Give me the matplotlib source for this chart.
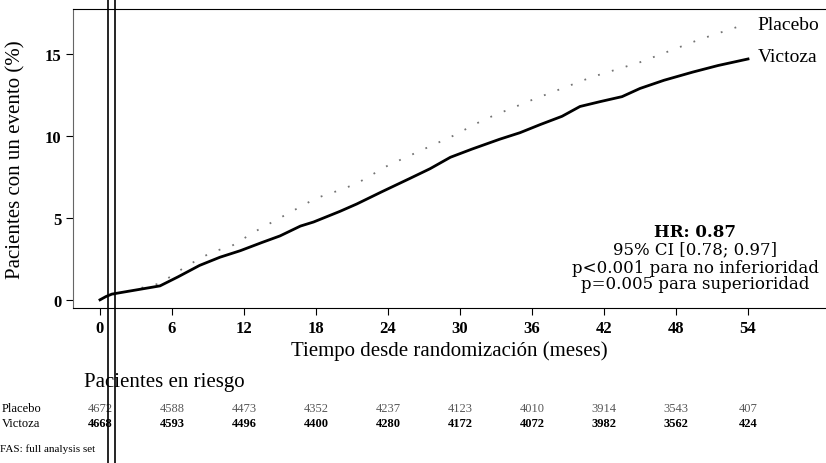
import numpy as np
import matplotlib.pyplot as plt
from matplotlib.lines import Line2D

plt.rcParams['font.family'] = ['Liberation Serif', 'DejaVu Serif']

# curvas (meses, % pacientes con evento)
meses_victoza = [0, 0.5, 1, 3, 5, 6.5, 8.3, 10, 11.7, 13.5, 15, 16.7, 17.8, 20, 21.4,
                 23.5, 25.8, 27.5, 29.2, 31, 33.3, 35, 36.7, 38.5, 40, 41.7, 43.5,
                 45, 47, 49.4, 51.5, 54]
victoza = [0, 0.2, 0.35, 0.6, 0.85, 1.4, 2.1, 2.6, 3.0, 3.5, 3.9, 4.5, 4.75, 5.4,
           5.85, 6.6, 7.4, 8.0, 8.7, 9.2, 9.8, 10.2, 10.7, 11.2, 11.8, 12.1, 12.4,
           12.9, 13.4, 13.9, 14.3, 14.7]

meses_placebo = [0, 1, 5, 7.3, 9.3, 11, 13, 16, 18, 20, 21.4, 24, 29.4, 32,
                 36, 41, 45, 50, 53.3, 54]
placebo = [0, 0.3, 1.0, 2.1, 2.9, 3.3, 4.2, 5.4, 6.2, 6.7, 7.1, 8.2, 10.0, 11.0,
           12.2, 13.6, 14.5, 15.9, 16.7, 16.8]

ticks_x = [0, 6, 12, 18, 24, 30, 36, 42, 48, 54]
riesgo_placebo = ["4672", "4588", "4473", "4352", "4237", "4123", "4010", "3914", "3543", "407"]
riesgo_victoza = ["4668", "4593", "4496", "4400", "4280", "4172", "4072", "3982", "3562", "424"]

fig = plt.figure(figsize=(8.26, 4.64), dpi=100)
ax = fig.add_axes([73/826, 1-309/464, 1-73/826, (309-10)/464])

ax.plot(meses_placebo, placebo, color="0.45", lw=1.3, linestyle=(0, (1, 7)))
ax.plot(meses_victoza, victoza, color="black", lw=2)

ax.set_xlim(-2.25, 60.5)
ax.set_ylim(-0.5, 17.75)
ax.set_xticks(ticks_x)
ax.set_yticks([0, 5, 10, 15])
ax.tick_params(axis="both", labelsize=12, direction="out", length=5)
for t in ax.get_xticklabels() + ax.get_yticklabels():
    t.set_fontweight("bold")
ax.spines["right"].set_visible(False)
ax.spines["left"].set_color("0.4")

ax.set_xlabel("Tiempo desde randomización (meses)", fontsize=15, labelpad=3)
ax.set_ylabel("Pacientes con un evento (%)", fontsize=15, labelpad=14)

ax.text(54.8, 16.8, "Placebo", fontsize=14, va="center")
ax.text(54.8, 14.85, "Victoza", fontsize=14, va="center")

cx = 49.6
ax.text(cx, 4.15, "HR: 0.87", fontsize=12, fontweight="bold", ha="center", va="center",
        family="DejaVu Serif")
ax.text(cx, 3.1, "95% CI [0.78; 0.97]", fontsize=12, ha="center", va="center", family="DejaVu Serif")
ax.text(cx, 2.0, "p<0.001 para no inferioridad", fontsize=12, ha="center", va="center",
        family="DejaVu Serif")
ax.text(cx, 0.98, "p=0.005 para superioridad", fontsize=12, ha="center", va="center",
        family="DejaVu Serif")

# tabla de pacientes en riesgo
tr = ax.get_xaxis_transform()
ax.text(-1.3, -0.245, "Pacientes en riesgo", transform=tr, fontsize=15, va="center")
ax.text(-8.2, -0.335, "Placebo", transform=tr, fontsize=9, va="center")
ax.text(-8.2, -0.385, "Victoza", transform=tr, fontsize=9, va="center")
for x, p, v in zip(ticks_x, riesgo_placebo, riesgo_victoza):
    ax.text(x, -0.335, p, transform=tr, fontsize=9, ha="center", va="center", color="0.35")
    ax.text(x, -0.385, v, transform=tr, fontsize=9, ha="center", va="center", fontweight="bold")
ax.text(-8.3, -0.47, "FAS: full analysis set", transform=tr, fontsize=8, va="center")

# rayas del escaneo
for px in (108, 115):
    fig.add_artist(Line2D([px/826, px/826], [0, 1], color="black", lw=1.2, transform=fig.transFigure))

fig.savefig("out.png", dpi=100)
